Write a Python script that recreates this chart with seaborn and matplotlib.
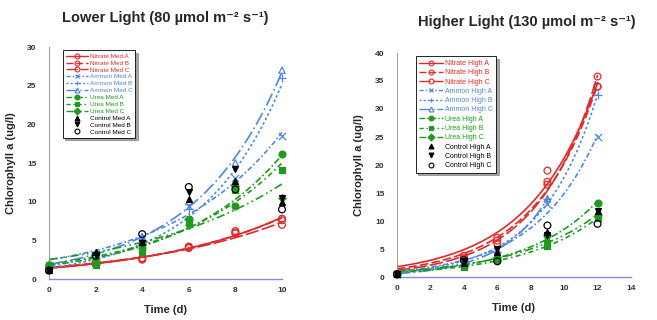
import numpy as np
import pandas as pd
import matplotlib
matplotlib.use("Agg")
import matplotlib.pyplot as plt
from matplotlib.lines import Line2D
import seaborn as sns

# ---------------- data ----------------
t_med = [0, 2, 4, 6, 8, 10]
nitrate_med_a = [1.2, 2.0, 2.7, 4.0, 6.0, 7.8]
nitrate_med_b = [1.3, 1.9, 2.5, 4.2, 6.2, 7.6]
nitrate_med_c = [1.1, 2.1, 2.6, 4.1, 5.9, 7.0]
ammon_med_a = [1.8, 3.0, 5.2, 9.5, 13.0, 18.5]
ammon_med_b = [1.8, 3.2, 5.0, 9.0, 12.0, 26.0]
ammon_med_c = [1.9, 3.1, 5.5, 10.0, 15.0, 27.0]
urea_med_a = [1.8, 2.3, 4.0, 7.8, 9.5, 16.2]
urea_med_b = [1.7, 1.8, 3.5, 7.5, 11.5, 14.1]
urea_med_c = [1.8, 2.0, 4.5, 7.0, 12.0, 10.5]
control_med_a = [1.2, 3.5, 4.8, 10.3, 12.7, 10.0]
control_med_b = [1.2, 3.1, 4.6, 11.2, 14.2, 10.5]
control_med_c = [1.1, 3.0, 5.8, 11.9, 11.6, 9.0]

t_high = [0, 4, 6, 9, 12]
nitrate_high_a = [0.5, 3.8, 7.0, 19.0, 34.0]
nitrate_high_b = [0.5, 3.5, 6.5, 17.0, 34.0]
nitrate_high_c = [0.5, 3.2, 6.0, 16.5, 35.8]
ammon_high_a = [0.5, 2.5, 4.0, 13.0, 25.0]
ammon_high_b = [0.5, 2.8, 4.5, 14.0, 32.5]
ammon_high_c = [0.5, 2.6, 4.8, 14.0, np.nan]
urea_high_a = [0.5, 2.0, 3.0, 7.5, 13.3]
urea_high_b = [0.5, 1.8, 3.2, 5.5, 10.5]
urea_high_c = [0.5, 2.0, 3.5, 6.5, 11.0]
control_high_a = [0.5, 2.5, 4.5, 8.0, 11.8]
control_high_b = [0.5, 2.8, 5.0, 7.5, 11.8]
control_high_c = [0.5, 3.0, 2.8, 9.2, 9.5]

med_labels = ["Nitrate Med A", "Nitrate Med B", "Nitrate Med C",
              "Ammon Med A", "Ammon Med B", "Ammon Med C",
              "Urea Med A", "Urea Med B", "Urea Med C",
              "Control Med A", "Control Med B", "Control Med C"]
high_labels = ["Nitrate High A", "Nitrate High B", "Nitrate High C",
               "Ammon High A", "Ammon High B", "Ammon High C",
               "Urea High A", "Urea High B", "Urea High C",
               "Control High A", "Control High B", "Control High C"]

med_series = [nitrate_med_a, nitrate_med_b, nitrate_med_c,
              ammon_med_a, ammon_med_b, ammon_med_c,
              urea_med_a, urea_med_b, urea_med_c,
              control_med_a, control_med_b, control_med_c]
high_series = [nitrate_high_a, nitrate_high_b, nitrate_high_c,
               ammon_high_a, ammon_high_b, ammon_high_c,
               urea_high_a, urea_high_b, urea_high_c,
               control_high_a, control_high_b, control_high_c]

# ---------------- styles ----------------
RED = "#e02a2a"
BLUE = "#4f86de"
GREEN = "#1e9a1e"
BLACK = "#000000"
colors = [RED] * 3 + [BLUE] * 3 + [GREEN] * 3 + [BLACK] * 3
markers = ["o", "o", "o", "x", "+", "^", "o", "s", "D", "^", "v", "o"]
hollow = [True, True, True, False, False, True, False, False, False, False, False, True]
sizes = [24, 24, 24, 26, 30, 20, 24, 20, 14, 18, 18, 24]
lstyles = ["-", (0, (5, 2)), (0, (8, 2)),
           (0, (3, 1.5, 1, 1.5)), (0, (1.5, 1.5)), (0, (8, 2, 1, 2)),
           (0, (4, 1.5, 1, 1.5)), (0, (3, 2, 1, 2)), (0, (5, 2, 1, 2, 1, 2)),
           None, None, None]
fitted = [True] * 9 + [False] * 3


def expfit(t, y):
    t = np.asarray(t, float)
    y = np.asarray(y, float)
    ok = ~np.isnan(y)
    t, y = t[ok], y[ok]
    best = None
    for b in np.linspace(0.0, 0.6, 3001):
        e = np.exp(b * t)
        a = (y @ e) / (e @ e)
        sse = ((y - a * e) ** 2).sum()
        if best is None or sse < best[0]:
            best = (sse, a, b)
    return best[1], best[2], t.max()


sns.set_style("white")
plt.rcParams["font.family"] = ["Liberation Sans", "DejaVu Sans"]

fig = plt.figure(figsize=(6.57, 3.2), dpi=100)
ax1 = fig.add_axes([49 / 657, 41 / 320, 233 / 657, 232 / 320])
ax2 = fig.add_axes([397 / 657, 43 / 320, 234 / 657, 224 / 320])


def draw(ax, tvals, series, labels, legend_anchor, legend_fs, lspace):
    handles = []
    for i, y in enumerate(series):
        c = colors[i]
        df = pd.DataFrame({"t": tvals, "y": y}).dropna()
        if fitted[i]:
            a, b, tmax = expfit(df["t"], df["y"])
            tt = np.linspace(0, tmax, 120)
            sns.lineplot(x=tt, y=a * np.exp(b * tt), ax=ax, color=c,
                         linestyle=lstyles[i], linewidth=1.2, zorder=2)
        fc = "none" if hollow[i] else c
        line_marker = markers[i] in ("x", "+")
        sns.scatterplot(data=df, x="t", y="y", ax=ax, marker=markers[i],
                        s=sizes[i], facecolors=fc, edgecolors=None if line_marker else c,
                        color=c, linewidth=0.9, zorder=3, clip_on=False)
        handles.append(Line2D([], [], color=c, linestyle=lstyles[i] if lstyles[i] else "none",
                              linewidth=1.0, marker=markers[i], markersize=3.5,
                              markerfacecolor=fc, markeredgecolor=c, markeredgewidth=0.8))
    leg = ax.legend(handles, labels, loc="upper left", bbox_to_anchor=legend_anchor,
                    fontsize=legend_fs, frameon=True, fancybox=False, shadow=True,
                    edgecolor="black", handlelength=3.4, handletextpad=0.3,
                    labelspacing=lspace, borderpad=0.5, labelcolor=colors)
    leg.get_frame().set_linewidth(0.6)


draw(ax1, t_med, med_series, med_labels, (0.045, 1.0), 4.6, 0.22)
draw(ax2, t_high, high_series, high_labels, (0.065, 1.0), 5.0, 0.33)

for ax, xmax, ymax, xt, yt in [(ax1, 10, 30, range(0, 11, 2), range(0, 31, 5)),
                               (ax2, 14, 40, range(0, 15, 2), range(0, 41, 5))]:
    ax.set_xlim(0, xmax)
    ax.set_ylim(0, ymax)
    ax.set_xticks(list(xt))
    ax.set_yticks(list(yt))
    ax.tick_params(axis="x", direction="in", length=3, width=0.6, colors="#8888cc",
                   labelsize=6, labelcolor="#333333", pad=6)
    ax.tick_params(axis="y", direction="out", length=3, width=0.6, colors="#888888",
                   labelsize=6, labelcolor="#333333", pad=6)
    for lab in ax.get_xticklabels() + ax.get_yticklabels():
        lab.set_fontweight("bold")
    for s in ("top", "right"):
        ax.spines[s].set_visible(False)
    ax.spines["left"].set_color("#999999")
    ax.spines["left"].set_linewidth(0.7)
    ax.spines["bottom"].set_color("#8888dd")
    ax.spines["bottom"].set_linewidth(1.0)
    ax.set_xlabel("Time (d)", fontsize=8, fontweight="bold", labelpad=8)
    ax.set_ylabel("Chlorophyll a (ug/l)", fontsize=8, fontweight="bold", labelpad=8)
    ax.grid(False)

fig.text(165 / 657, 1 - 18 / 320, "Lower Light (80 µmol m⁻² s⁻¹)", ha="center", va="center",
         fontsize=10.5, fontweight="bold")
fig.text(527 / 657, 1 - 22 / 320, "Higher Light (130 µmol m⁻² s⁻¹)", ha="center", va="center",
         fontsize=10.5, fontweight="bold")

fig.savefig("out.png", dpi=100)
